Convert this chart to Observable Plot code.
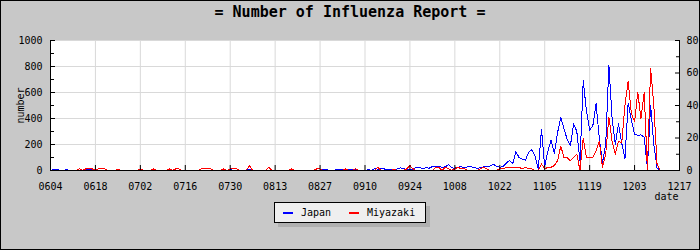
<!DOCTYPE html>
<html>
<head>
<meta charset="utf-8">
<script src="https://cdn.jsdelivr.net/npm/d3@7"></script>
<script src="https://cdn.jsdelivr.net/npm/@observablehq/plot@0.6"></script>
<style>
html, body { margin: 0; padding: 0; background: #c8c8c8; }
#wrap { position: relative; width: 700px; height: 250px; overflow: hidden; background: #c8c8c8; font-family: "DejaVu Sans Mono", monospace; }
#chart { position: absolute; left: 0; top: 0; }
#chart svg { display: block; }
#title { position: absolute; left: 0; top: 5px; width: 700px; text-align: center; font-family: "DejaVu Sans Mono", monospace; font-weight: bold; font-size: 15px; line-height: 15px; color: #000; white-space: pre; }
#legend { position: absolute; left: 274px; top: 202px; width: 150px; height: 19px; background: #efefef; border: 1px solid #000; box-shadow: 4px 4px 0 #b0b0b0; font-size: 10px; line-height: 10px; color: #000; }
#legend .sw { position: absolute; width: 10px; height: 2px; top: 9px; }
#legend .lb { position: absolute; top: 4.5px; white-space: pre; }
#border { position: absolute; left: 0; top: 0; width: 700px; height: 250px; box-sizing: border-box; border: 1px solid #000; pointer-events: none; }
</style>
</head>
<body>
<div id="wrap">
  <div id="chart"></div>
  <div id="title">= Number of Influenza Report =</div>
  <div id="legend"></div>
  <div id="border"></div>
</div>
<script>
// ---- data ----
const title = "= Number of Influenza Report =";
const seriesNames = ["Japan", "Miyazaki"];
const seriesColors = ["#0000ff", "#ff0000"];
const year = "2009";
const startDay = "0604";
const tickLabels = ["0604","0618","0702","0716","0730","0813","0827","0910","0924","1008","1022","1105","1119","1203","1217"];
const leftTicks = [0, 200, 400, 600, 800, 1000];
const leftMinor = [100, 300, 500, 700, 900];
const rightTicks = [0, 20, 40, 60, 80];
const rightMinor = [10, 30, 50, 70];
const yLabel = "number";
const xLabel = "date";

// daily values from 06/04
const japan = [
  0,8,8,0,0,8,0,0,0,0,
  0,8,10,5,0,0,0,0,0,0,
  0,0,0,0,0,0,0,0,5,0,
  0,0,10,0,0,0,0,0,0,0,
  0,0,0,0,0,0,0,0,0,0,
  0,0,0,0,0,0,10,0,0,0,
  0,0,10,0,0,0,0,0,0,0,
  0,0,0,0,0,0,0,0,0,0,
  0,0,0,0,0,8,8,0,0,5,
  8,8,8,8,8,5,0,3,0,5,
  3,15,10,18,12,5,8,5,12,20,
  15,8,5,10,25,22,15,22,18,30,
  28,32,25,28,45,20,18,25,30,20,
  28,30,22,18,20,30,28,35,50,30,
  25,30,55,78,50,145,100,88,80,140,
  160,110,15,315,30,150,235,130,290,410,
  320,240,190,360,300,70,690,460,310,345,
  515,250,60,200,810,400,200,360,210,90,
  520,390,280,270,275,255,20,500,200,20,0
];
const miyazaki = [
  0,0,0,0,0,0,0,0,0,1,
  0,1,1,1,0,1,1,1,0,0,
  0,1,0,0,0,0,0,0,1,0,
  0,0,1,0,0,0,0,1,0,1,
  1,0,0,0,0,0,0,1,1,1,
  1,0,0,0,1,0,1,1,1,0,
  0,0,3,0,0,0,0,0,2,0,
  0,0,0,0,0,1,0,0,0,0,
  0,0,0,1,1,0,0,0,0,0,
  0,0,1,0,0,1,0,0,0,0,
  0,0,2,0,0,0,0,1,0,0,
  0,1,3,1,0,0,0,0,0,0,
  2,2,0,2,1,0,1,2,1,1,
  0,0,0,0,1,2,1,0,0,0,
  1,1,2,2,2,2,2,1,2,1,
  1,0,0,4,1,2,2,3,6,15,
  8,8,6,8,10,0,20,8,8,8,
  12,18,2,10,33,18,10,18,17,40,
  55,35,30,48,32,48,0,63,40,4,0
];

// ---- build ----
const parse = d3.utcParse("%Y%m%d");
const tickDates = tickLabels.map(s => parse(year + s));
const start = parse(year + startDay);
const toLeft = d3.scaleLinear([rightTicks[0], rightTicks[rightTicks.length - 1]], [leftTicks[0], leftTicks[leftTicks.length - 1]]);
const rows = japan.map((v, i) => ({date: d3.utcDay.offset(start, i), japan: v, miyazaki: toLeft(miyazaki[i])}));
const fmt = d3.utcFormat("%m%d");
const x0 = tickDates[0], x1 = tickDates[tickDates.length - 1];

const plot = Plot.plot({
  width: 700,
  height: 250,
  marginLeft: 50,
  marginRight: 21,
  marginTop: 40,
  marginBottom: 80,
  style: {background: "#c8c8c8", fontFamily: "DejaVu Sans Mono", fontSize: "10px", color: "#000", overflow: "visible"},
  x: {type: "utc", domain: [x0, x1]},
  y: {domain: [leftTicks[0], leftTicks[leftTicks.length - 1]]},
  marks: [
    Plot.frame({fill: "white", stroke: null}),
    Plot.gridX(tickDates, {stroke: "#d9d9d9", strokeOpacity: 1}),
    Plot.gridY(leftTicks, {stroke: "#d9d9d9", strokeOpacity: 1}),
    Plot.line(rows, {x: "date", y: "japan", stroke: seriesColors[0], strokeWidth: 1, shapeRendering: "crispEdges"}),
    Plot.line(rows, {x: "date", y: "miyazaki", stroke: seriesColors[1], strokeWidth: 1, shapeRendering: "crispEdges"}),
    Plot.ruleY([leftTicks[0]], {stroke: "#000"}),
    Plot.ruleX([x0, x1], {stroke: "#000"}),
    // left axis
    Plot.axisY(leftTicks, {anchor: "left", tickSize: 0, tickPadding: 8, label: null, fill: "#000", tickFormat: d => String(d)}),
    Plot.axisY(leftTicks, {anchor: "left", tickSize: 5, dx: 5, fill: "none", stroke: "#000", label: null}),
    Plot.axisY(leftMinor, {anchor: "left", tickSize: 4, dx: 4, fill: "none", stroke: "#000", label: null}),
    // right axis
    Plot.axisY(rightTicks.map(toLeft), {anchor: "right", tickSize: 0, tickPadding: 7, label: null, fill: "#000", tickFormat: d => String(Math.round(toLeft.invert(d)))}),
    Plot.axisY(rightTicks.map(toLeft), {anchor: "right", tickSize: 5, dx: -5, fill: "none", stroke: "#000", label: null}),
    Plot.axisY(rightMinor.map(toLeft), {anchor: "right", tickSize: 4, dx: -4, fill: "none", stroke: "#000", label: null}),
    // bottom axis
    Plot.axisX(tickDates, {anchor: "bottom", tickSize: 0, tickPadding: 12, label: null, fill: "#000", tickFormat: fmt}),
    Plot.axisX(tickDates, {anchor: "bottom", tickSize: 5, dy: -5, fill: "none", stroke: "#000", label: null}),
    // axis titles
    Plot.text([yLabel], {frameAnchor: "left", textAnchor: "middle", dx: -30, rotate: -90, fill: "#000", fontSize: 10}),
    Plot.text([xLabel], {frameAnchor: "bottom-right", textAnchor: "end", lineAnchor: "top", dx: -1, dy: 22, fill: "#000", fontSize: 10})
  ]
});
document.getElementById("chart").appendChild(plot);
document.getElementById("title").textContent = title;

// legend
const legend = document.getElementById("legend");
const swLeft = [8, 74], lbLeft = [26, 92];
seriesNames.forEach((name, i) => {
  const sw = document.createElement("div");
  sw.className = "sw";
  sw.style.left = swLeft[i] + "px";
  sw.style.background = seriesColors[i];
  legend.appendChild(sw);
  const lb = document.createElement("div");
  lb.className = "lb";
  lb.style.left = lbLeft[i] + "px";
  lb.textContent = name;
  legend.appendChild(lb);
});
</script>
</body>
</html>
